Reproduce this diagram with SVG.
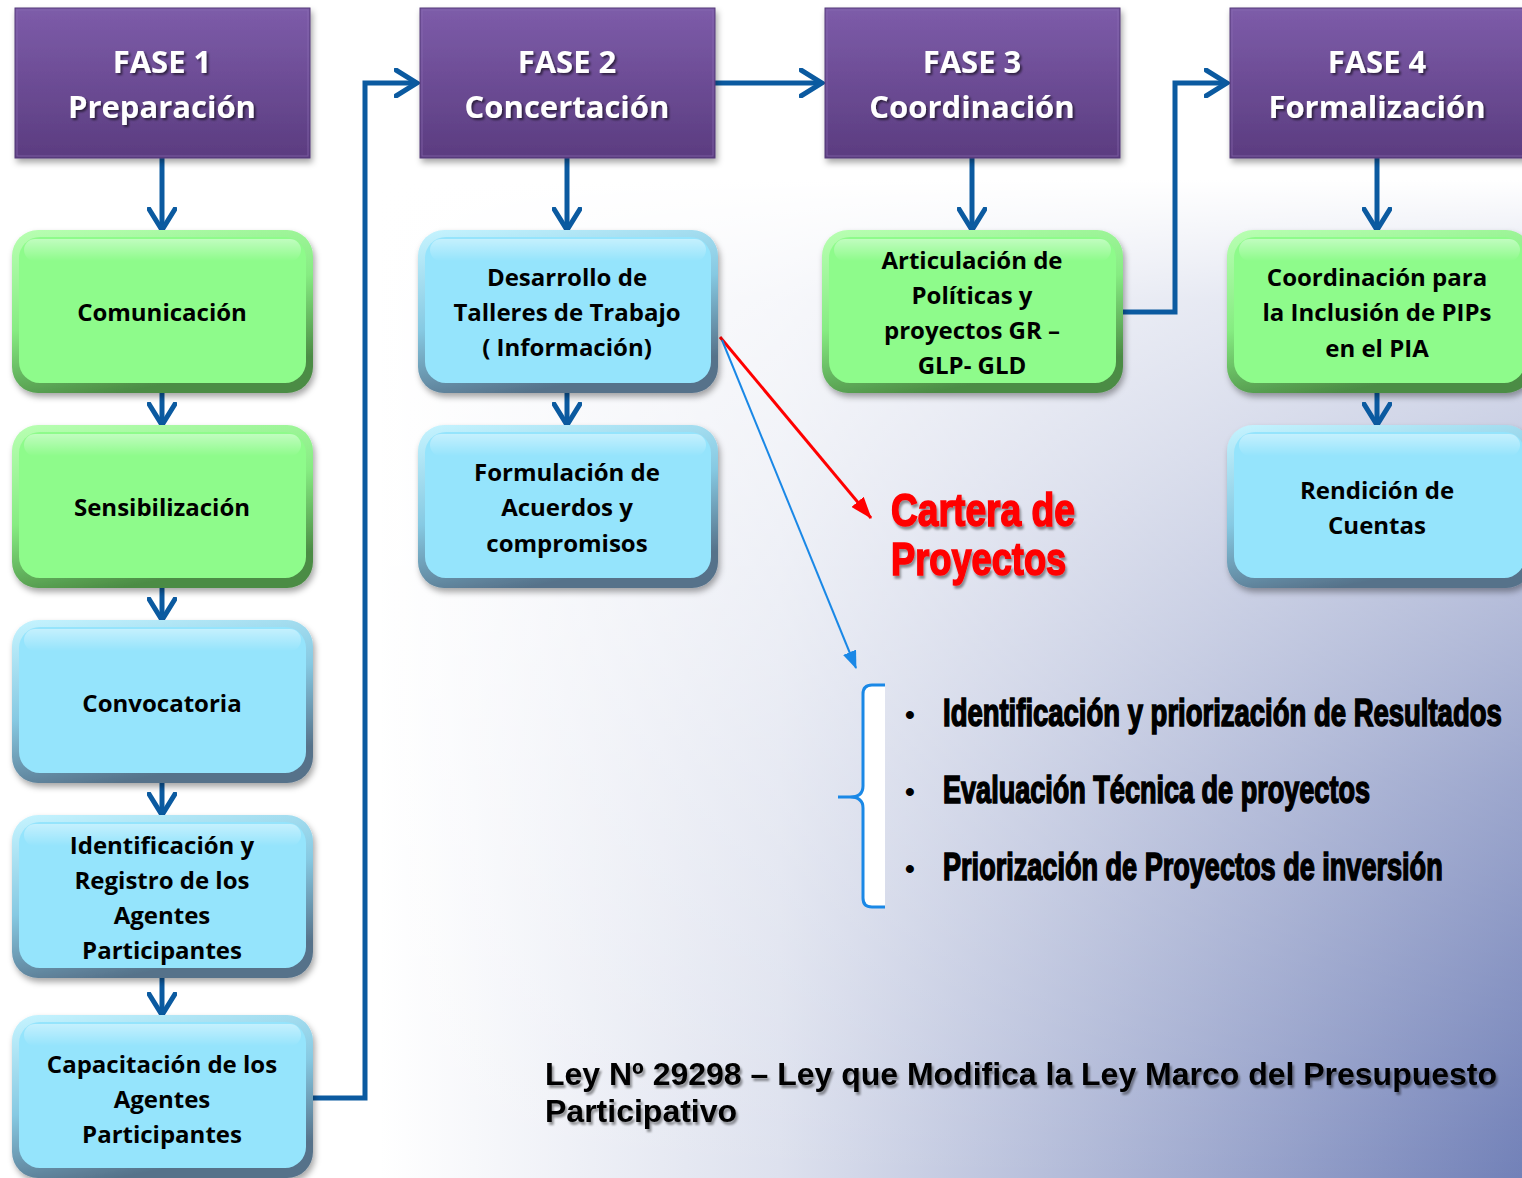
<svg xmlns="http://www.w3.org/2000/svg" width="1522" height="1178" viewBox="0 0 1522 1178">
  <defs>
    <linearGradient id="bgH" x1="380" y1="0" x2="1522" y2="0" gradientUnits="userSpaceOnUse">
      <stop offset="0" stop-color="#ffffff"/>
      <stop offset="0.35" stop-color="#dde1ee"/>
      <stop offset="1" stop-color="#7281b8"/>
    </linearGradient>
    <linearGradient id="bgV" x1="0" y1="180" x2="0" y2="1178" gradientUnits="userSpaceOnUse">
      <stop offset="0" stop-color="#ffffff" stop-opacity="1"/>
      <stop offset="0.12" stop-color="#ffffff" stop-opacity="0.75"/>
      <stop offset="0.6" stop-color="#ffffff" stop-opacity="0.3"/>
      <stop offset="1" stop-color="#ffffff" stop-opacity="0"/>
    </linearGradient>
    <linearGradient id="purple" x1="0" y1="0" x2="0" y2="1">
      <stop offset="0" stop-color="#7d5ca9"/>
      <stop offset="1" stop-color="#5b3c80"/>
    </linearGradient>
    <linearGradient id="greenEdge" x1="0" y1="0" x2="0.35" y2="1">
      <stop offset="0" stop-color="#b9ffb3"/>
      <stop offset="0.55" stop-color="#86ec82"/>
      <stop offset="1" stop-color="#4c8c45"/>
    </linearGradient>
    <linearGradient id="blueEdge" x1="0" y1="0" x2="0.35" y2="1">
      <stop offset="0" stop-color="#c6f4ff"/>
      <stop offset="0.55" stop-color="#86c9e2"/>
      <stop offset="1" stop-color="#56728a"/>
    </linearGradient>
    <linearGradient id="hl" x1="0" y1="0" x2="0" y2="1">
      <stop offset="0" stop-color="#ffffff" stop-opacity="0.45"/>
      <stop offset="1" stop-color="#ffffff" stop-opacity="0"/>
    </linearGradient>
    <filter id="sh" x="-10%" y="-10%" width="125%" height="130%">
      <feDropShadow dx="2" dy="4" stdDeviation="3" flood-color="#000" flood-opacity="0.35"/>
    </filter>
    <filter id="tsh" x="-5%" y="-20%" width="115%" height="150%">
      <feDropShadow dx="2" dy="2" stdDeviation="1.2" flood-color="#000" flood-opacity="0.55"/>
    </filter>
    <filter id="tsh2" x="-5%" y="-20%" width="115%" height="150%">
      <feDropShadow dx="2" dy="3" stdDeviation="1.2" flood-color="#000" flood-opacity="0.4"/>
    </filter>
    <marker id="chev" markerUnits="userSpaceOnUse" viewBox="0 0 26 30" markerWidth="26" markerHeight="30" refX="23" refY="15" orient="auto">
      <path d="M2,2 L23,15 L2,28" fill="none" stroke="#0b5aa0" stroke-width="5" stroke-linecap="round" stroke-linejoin="miter"/>
    </marker>
    <marker id="redHead" markerUnits="userSpaceOnUse" viewBox="0 0 22 16" markerWidth="22" markerHeight="16" refX="21" refY="8" orient="auto">
      <path d="M0,0 L22,8 L0,16 Z" fill="#ff0000"/>
    </marker>
    <marker id="blueHead" markerUnits="userSpaceOnUse" viewBox="0 0 18 14" markerWidth="18" markerHeight="14" refX="17" refY="7" orient="auto">
      <path d="M0,0 L18,7 L0,14 Z" fill="#1a88e6"/>
    </marker>
    <style>
      .hdr { fill: url(#purple); stroke: #553a78; stroke-width: 1; filter: url(#sh); }
      .hdrIn { fill: none; stroke: #8d70b6; stroke-width: 1; opacity: 0.6; }
      .htxt { font-family: "Open Sans", "Liberation Sans", sans-serif; font-weight: 700; font-size: 31px; fill: #ffffff; text-anchor: middle; filter: url(#tsh); }
      .gEdge { fill: url(#greenEdge); filter: url(#sh); }
      .gIn { fill: #8efb8b; }
      .bEdge { fill: url(#blueEdge); filter: url(#sh); }
      .bIn { fill: #95e4fc; }
      .hi { fill: url(#hl); }
      .btxt { font-family: "Open Sans", "Liberation Sans", sans-serif; font-weight: 700; font-size: 24px; fill: #000000; text-anchor: middle; }
      .flow { fill: none; stroke: #0b5aa0; stroke-width: 5; marker-end: url(#chev); }
      .red { font-family: "Liberation Sans", Arial, sans-serif; font-weight: 700; font-size: 47px; fill: #ff0000; stroke: #ff0000; stroke-width: 1.6; filter: url(#tsh2); }
      .bul { font-family: "Liberation Sans", Arial, sans-serif; font-weight: 700; font-size: 38px; fill: #000000; stroke: #000000; stroke-width: 1.6; }
      .dot { font-family: "Liberation Sans", Arial, sans-serif; font-weight: 700; font-size: 28px; fill: #000000; }
      .ley { font-family: "Liberation Sans", Arial, sans-serif; font-weight: 700; font-size: 32px; fill: #000000; filter: url(#tsh2); }
    </style>
  </defs>

  <!-- background -->
  <rect x="0" y="0" width="1522" height="1178" fill="#ffffff"/>
  <rect x="380" y="180" width="1142" height="998" fill="url(#bgH)"/>
  <rect x="380" y="180" width="1142" height="998" fill="url(#bgV)"/>

  <!-- connectors -->
  <g id="connectors">
    <line class="flow" x1="162" y1="158" x2="162" y2="230"/>
    <line class="flow" x1="162" y1="393" x2="162" y2="425"/>
    <line class="flow" x1="162" y1="588" x2="162" y2="620"/>
    <line class="flow" x1="162" y1="783" x2="162" y2="815"/>
    <line class="flow" x1="162" y1="978" x2="162" y2="1015"/>
    <polyline class="flow" points="313,1098 365,1098 365,83 417,83"/>
    <line class="flow" x1="567" y1="158" x2="567" y2="230"/>
    <line class="flow" x1="567" y1="393" x2="567" y2="425"/>
    <line class="flow" x1="715" y1="83" x2="822" y2="83"/>
    <line class="flow" x1="972" y1="158" x2="972" y2="230"/>
    <polyline class="flow" points="1123,312 1175,312 1175,83 1227,83"/>
    <line class="flow" x1="1377" y1="158" x2="1377" y2="230"/>
    <line class="flow" x1="1377" y1="393" x2="1377" y2="425"/>
    <line x1="720" y1="337" x2="871" y2="518" stroke="#ff0000" stroke-width="3" marker-end="url(#redHead)"/>
    <line x1="722" y1="340" x2="856" y2="668" stroke="#1a88e6" stroke-width="2" marker-end="url(#blueHead)"/>
  </g>

  <!-- phase headers -->
  <g id="fase1">
    <rect class="hdr" x="15" y="8" width="295" height="150"/>
    <rect class="hdrIn" x="17" y="10" width="291" height="146"/>
    <text class="htxt" x="162" y="73">FASE 1</text>
    <text class="htxt" x="162" y="118">Preparación</text>
  </g>
  <g id="fase2">
    <rect class="hdr" x="420" y="8" width="295" height="150"/>
    <rect class="hdrIn" x="422" y="10" width="291" height="146"/>
    <text class="htxt" x="567" y="73">FASE 2</text>
    <text class="htxt" x="567" y="118">Concertación</text>
  </g>
  <g id="fase3">
    <rect class="hdr" x="825" y="8" width="295" height="150"/>
    <rect class="hdrIn" x="827" y="10" width="291" height="146"/>
    <text class="htxt" x="972" y="73">FASE 3</text>
    <text class="htxt" x="972" y="118">Coordinación</text>
  </g>
  <g id="fase4">
    <rect class="hdr" x="1230" y="8" width="300" height="150"/>
    <rect class="hdrIn" x="1232" y="10" width="296" height="146"/>
    <text class="htxt" x="1377" y="73">FASE 4</text>
    <text class="htxt" x="1377" y="118">Formalización</text>
  </g>

  <!-- column 1 -->
  <g id="comunicacion">
    <rect class="gEdge" x="12" y="230" width="301" height="163" rx="26"/>
    <rect class="gIn" x="19" y="237" width="287" height="146" rx="21"/>
    <rect class="hi" x="24" y="239" width="277" height="22" rx="11"/>
    <text class="btxt" x="162" y="321">Comunicación</text>
  </g>
  <g id="sensibilizacion">
    <rect class="gEdge" x="12" y="425" width="301" height="163" rx="26"/>
    <rect class="gIn" x="19" y="432" width="287" height="146" rx="21"/>
    <rect class="hi" x="24" y="434" width="277" height="22" rx="11"/>
    <text class="btxt" x="162" y="516">Sensibilización</text>
  </g>
  <g id="convocatoria">
    <rect class="bEdge" x="12" y="620" width="301" height="163" rx="26"/>
    <rect class="bIn" x="19" y="627" width="287" height="146" rx="21"/>
    <rect class="hi" x="24" y="629" width="277" height="22" rx="11"/>
    <text class="btxt" x="162" y="712">Convocatoria</text>
  </g>
  <g id="identificacion">
    <rect class="bEdge" x="12" y="815" width="301" height="163" rx="26"/>
    <rect class="bIn" x="19" y="822" width="287" height="146" rx="21"/>
    <rect class="hi" x="24" y="824" width="277" height="22" rx="11"/>
    <text class="btxt" x="162" y="854">Identificación y</text>
    <text class="btxt" x="162" y="889">Registro de los</text>
    <text class="btxt" x="162" y="924">Agentes</text>
    <text class="btxt" x="162" y="959">Participantes</text>
  </g>
  <g id="capacitacion">
    <rect class="bEdge" x="12" y="1015" width="301" height="163" rx="26"/>
    <rect class="bIn" x="19" y="1022" width="287" height="146" rx="21"/>
    <rect class="hi" x="24" y="1024" width="277" height="22" rx="11"/>
    <text class="btxt" x="162" y="1073">Capacitación de los</text>
    <text class="btxt" x="162" y="1108">Agentes</text>
    <text class="btxt" x="162" y="1143">Participantes</text>
  </g>

  <!-- column 2 -->
  <g id="desarrollo">
    <rect class="bEdge" x="418" y="230" width="300" height="163" rx="26"/>
    <rect class="bIn" x="425" y="237" width="286" height="146" rx="21"/>
    <rect class="hi" x="430" y="239" width="276" height="22" rx="11"/>
    <text class="btxt" x="567" y="286">Desarrollo de</text>
    <text class="btxt" x="567" y="321">Talleres de Trabajo</text>
    <text class="btxt" x="567" y="356">( Información)</text>
  </g>
  <g id="formulacion">
    <rect class="bEdge" x="418" y="425" width="300" height="163" rx="26"/>
    <rect class="bIn" x="425" y="432" width="286" height="146" rx="21"/>
    <rect class="hi" x="430" y="434" width="276" height="22" rx="11"/>
    <text class="btxt" x="567" y="481">Formulación de</text>
    <text class="btxt" x="567" y="516">Acuerdos y</text>
    <text class="btxt" x="567" y="552">compromisos</text>
  </g>

  <!-- column 3 -->
  <g id="articulacion">
    <rect class="gEdge" x="822" y="230" width="301" height="163" rx="26"/>
    <rect class="gIn" x="829" y="237" width="287" height="146" rx="21"/>
    <rect class="hi" x="834" y="239" width="277" height="22" rx="11"/>
    <text class="btxt" x="972" y="269">Articulación de</text>
    <text class="btxt" x="972" y="304">Políticas y</text>
    <text class="btxt" x="972" y="339">proyectos GR –</text>
    <text class="btxt" x="972" y="374">GLP- GLD</text>
  </g>

  <!-- column 4 -->
  <g id="coordinacion-pips">
    <rect class="gEdge" x="1227" y="230" width="305" height="163" rx="26"/>
    <rect class="gIn" x="1234" y="237" width="291" height="146" rx="21"/>
    <rect class="hi" x="1239" y="239" width="281" height="22" rx="11"/>
    <text class="btxt" x="1377" y="286">Coordinación para</text>
    <text class="btxt" x="1377" y="321">la Inclusión de PIPs</text>
    <text class="btxt" x="1377" y="357">en el PIA</text>
  </g>
  <g id="rendicion">
    <rect class="bEdge" x="1227" y="425" width="305" height="163" rx="26"/>
    <rect class="bIn" x="1234" y="432" width="291" height="146" rx="21"/>
    <rect class="hi" x="1239" y="434" width="281" height="22" rx="11"/>
    <text class="btxt" x="1377" y="499">Rendición de</text>
    <text class="btxt" x="1377" y="534">Cuentas</text>
  </g>

  <!-- Cartera de Proyectos -->
  <g id="cartera">
    <text class="red" transform="translate(891,526) scale(0.8,1)" x="0" y="0" textLength="230" lengthAdjust="spacingAndGlyphs">Cartera de</text>
    <text class="red" transform="translate(891,575) scale(0.8,1)" x="0" y="0" textLength="219" lengthAdjust="spacingAndGlyphs">Proyectos</text>
  </g>

  <!-- brace and list -->
  <g id="lista">
    <path d="M885,685 L872,685 Q863,685 863,694 L863,786 Q863,797 850,797 L838,797 L850,797 Q863,797 863,808 L863,898 Q863,907 872,907 L885,907 Z" fill="#ffffff" stroke="none"/>
    <path d="M885,685 L872,685 Q863,685 863,694 L863,786 Q863,797 850,797 L838,797 M850,797 Q863,797 863,808 L863,898 Q863,907 872,907 L885,907" fill="none" stroke="#1a88e6" stroke-width="3"/>
    <text class="dot" x="905" y="724">•</text>
    <text class="bul" transform="translate(943,726) scale(0.72,1)" x="0" y="0" textLength="776" lengthAdjust="spacingAndGlyphs">Identificación y priorización de Resultados</text>
    <text class="dot" x="905" y="801">•</text>
    <text class="bul" transform="translate(943,803) scale(0.72,1)" x="0" y="0" textLength="593" lengthAdjust="spacingAndGlyphs">Evaluación Técnica de proyectos</text>
    <text class="dot" x="905" y="878">•</text>
    <text class="bul" transform="translate(943,880) scale(0.72,1)" x="0" y="0" textLength="694" lengthAdjust="spacingAndGlyphs">Priorización de Proyectos de inversión</text>
  </g>

  <!-- law text -->
  <g id="ley">
    <text class="ley" x="545" y="1085" textLength="952" lengthAdjust="spacingAndGlyphs">Ley Nº 29298 – Ley que Modifica la Ley Marco del Presupuesto</text>
    <text class="ley" x="545" y="1122">Participativo</text>
  </g>
</svg>
